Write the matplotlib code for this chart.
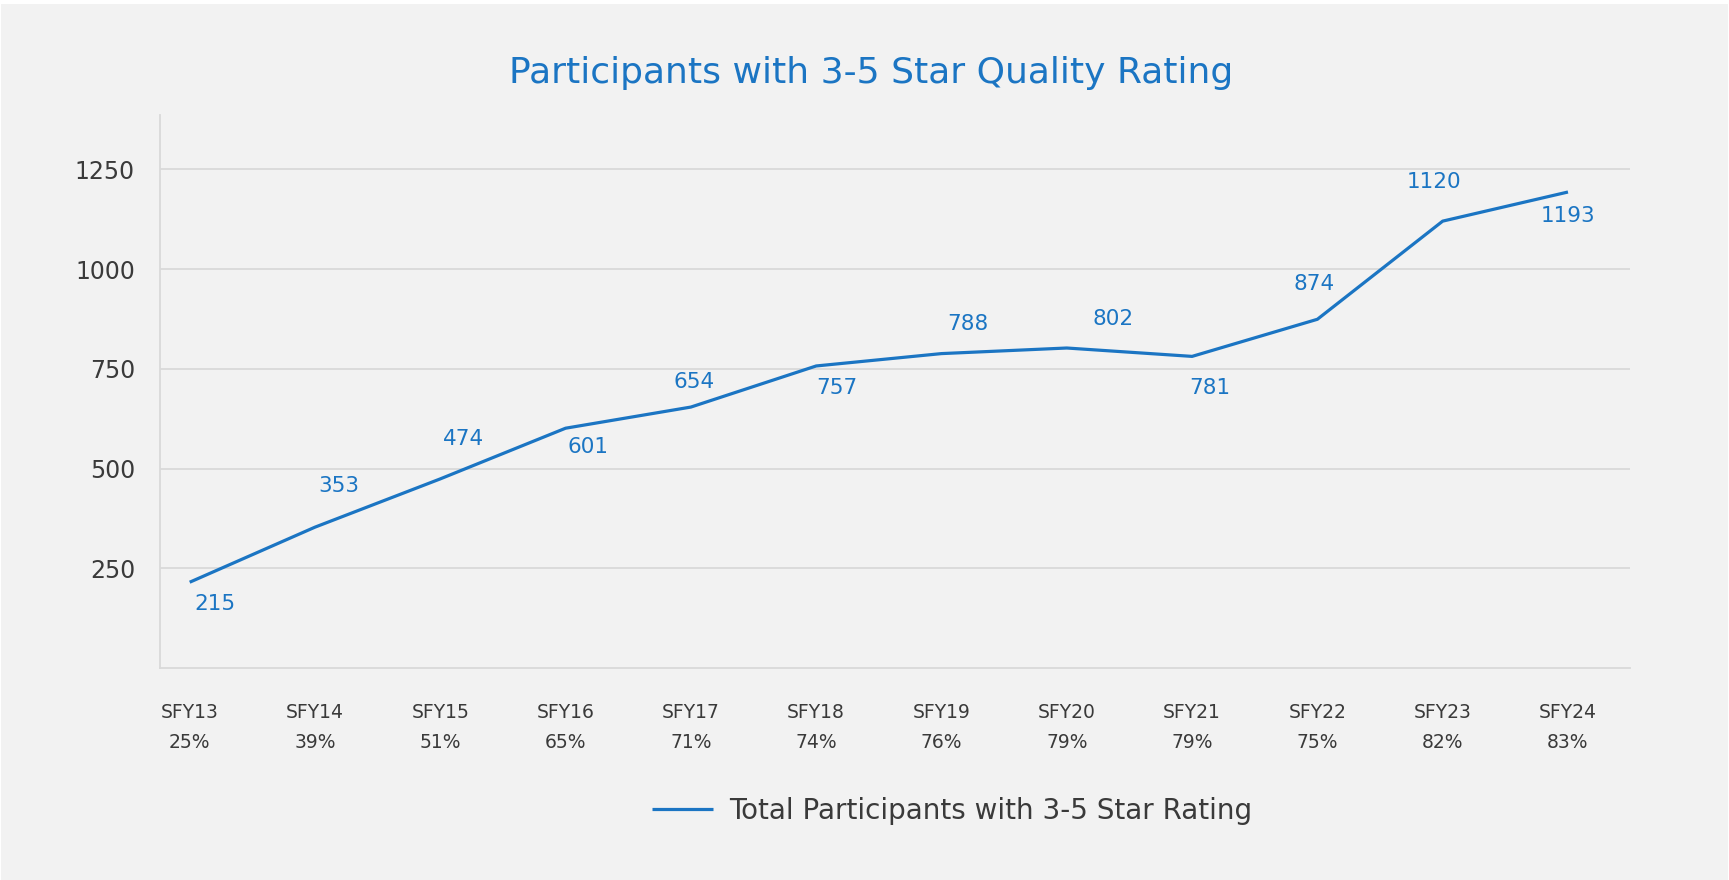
import matplotlib
matplotlib.use("Agg")
import matplotlib.pyplot as plt
from matplotlib.patches import Rectangle

# data
years = ["SFY13", "SFY14", "SFY15", "SFY16", "SFY17", "SFY18",
         "SFY19", "SFY20", "SFY21", "SFY22", "SFY23", "SFY24"]
pct_rated = ["25%", "39%", "51%", "65%", "71%", "74%",
             "76%", "79%", "79%", "75%", "82%", "83%"]
participants = [215, 353, 474, 601, 654, 757, 788, 802, 781, 874, 1120, 1193]
y_ticks = [250, 500, 750, 1000, 1250]

# label offsets in pixels (dx, dy up) - placement only
label_offsets = [(25, -22), (24, 41), (23, 40), (22, -19), (3, 25), (21, -22),
                 (26, 30), (46, 29), (18, -32), (-3, 35), (-9, 39), (0, -24)]

BLUE = "#1b75c3"
GRID = "#d9d9d9"
TXT = "#3a3a3a"
BG = "#f2f2f2"

plt.rcParams["font.family"] = ["DejaVu Sans"]

fig = plt.figure(figsize=(17.29, 8.8), dpi=100, facecolor="white")
fig.patches.append(Rectangle((1 / 1729, 0), 1 - 2 / 1729, 1 - 4 / 880,
                             transform=fig.transFigure, facecolor=BG,
                             edgecolor="none", zorder=-10))
ax = fig.add_axes([160 / 1729, 1 - 668 / 880, (1630 - 160) / 1729, (668 - 115) / 880])
ax.set_facecolor(BG)

x = list(range(len(years)))
ax.plot(x, participants, color=BLUE, lw=2.3, solid_capstyle="butt",
        label="Total Participants with 3-5 Star Rating", zorder=3)

for xi, v, (dx, dy) in zip(x, participants, label_offsets):
    ax.annotate(str(v), (xi, v), xytext=(dx, dy), textcoords="offset pixels",
                ha="center", va="center", fontsize=15.5, color=BLUE)

ax.set_xlim(-0.237, 11.495)
ax.set_ylim(0, 1386)
ax.set_yticks(y_ticks)
ax.set_yticklabels([str(t) for t in y_ticks], fontsize=17, color=TXT)
ax.set_xticks(x)
ax.set_xticklabels([f"{a}\n{b}" for a, b in zip(years, pct_rated)],
                   fontsize=13.5, color=TXT, linespacing=1.75)
ax.tick_params(axis="both", length=0)
ax.tick_params(axis="y", pad=18)
ax.tick_params(axis="x", pad=25)
ax.grid(axis="y", color=GRID, lw=1.3)
ax.set_axisbelow(True)
for s in ["top", "right"]:
    ax.spines[s].set_visible(False)
for s in ["left", "bottom"]:
    ax.spines[s].set_color(GRID)
    ax.spines[s].set_linewidth(1.3)

fig.text(871 / 1729, 1 - 73 / 880, "Participants with 3-5 Star Quality Rating",
         ha="center", va="center", fontsize=26, color=BLUE)

fig.legend(loc="center", bbox_to_anchor=(952 / 1729, 1 - 811 / 880),
           frameon=False, fontsize=20, handlelength=2.2, handletextpad=0.55,
           labelcolor=TXT)

fig.savefig("out.png", dpi=100, facecolor=fig.get_facecolor())
